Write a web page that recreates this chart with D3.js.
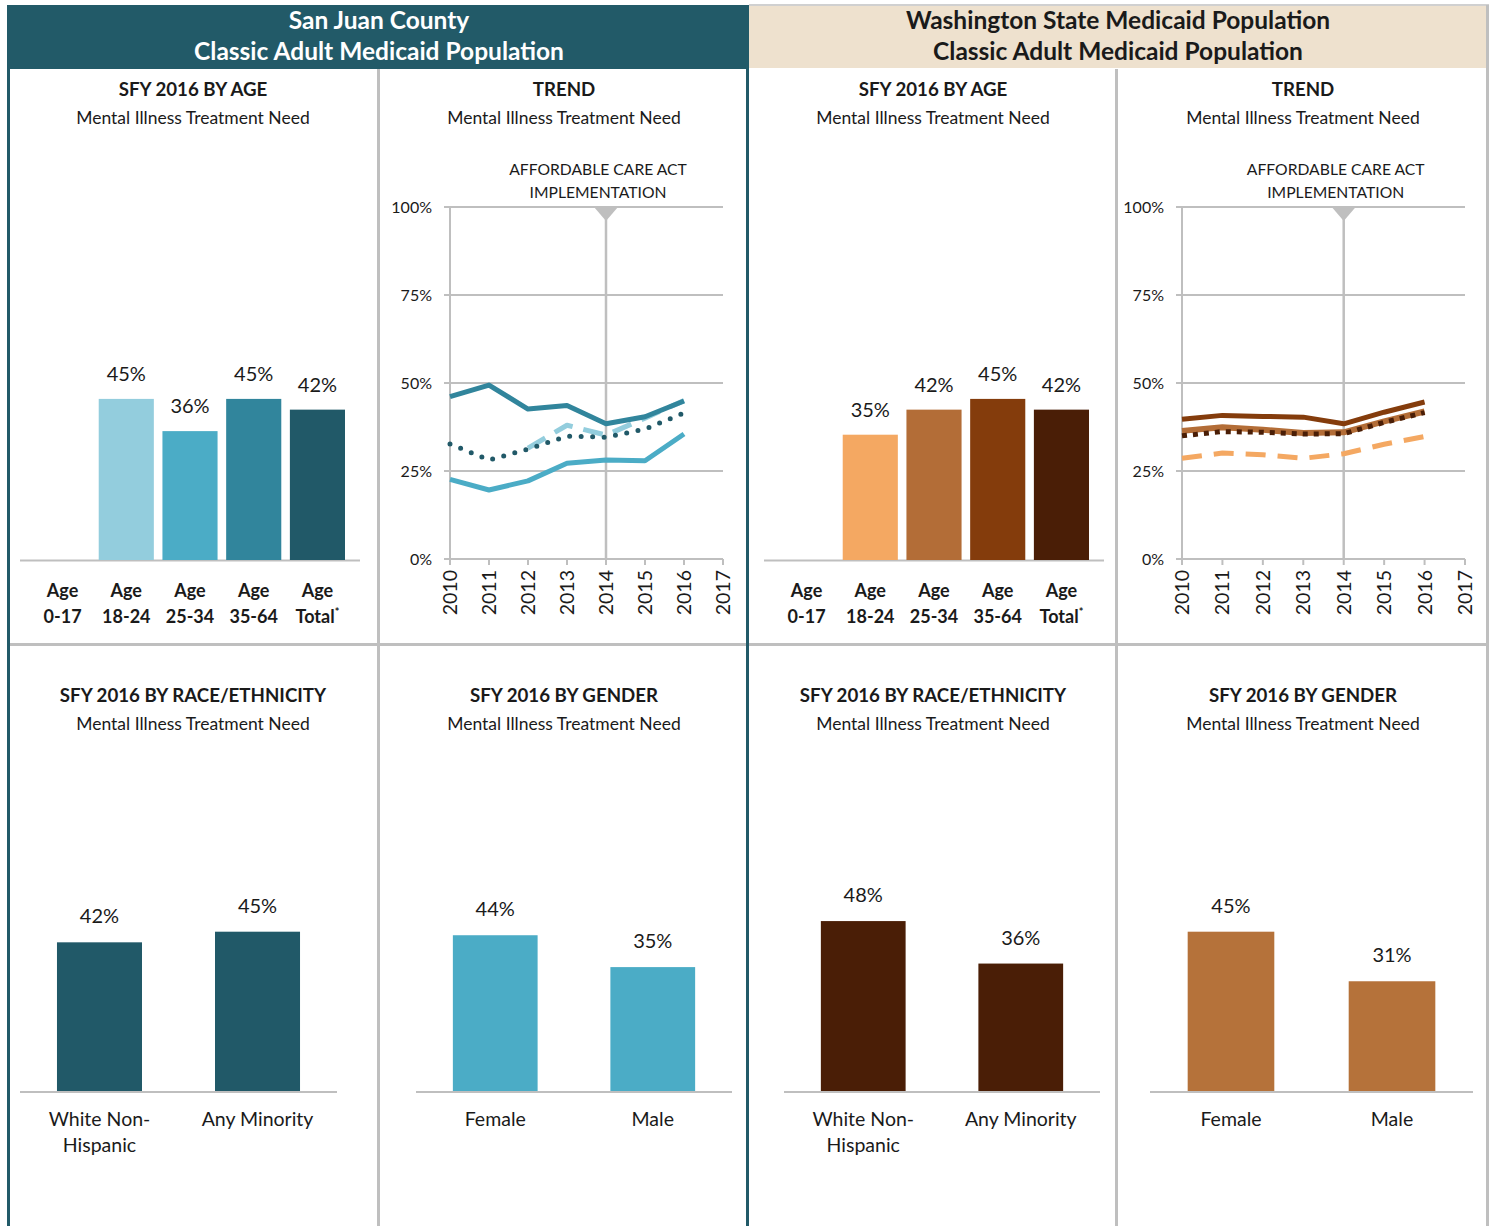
<!DOCTYPE html>
<html>
<head>
<meta charset="utf-8">
<script src="https://cdn.jsdelivr.net/npm/d3@7"></script>
<style>
  body { margin: 0; background: #fff; }
  svg { display: block; font-family: Lato, "Open Sans", sans-serif; }
</style>
</head>
<body>
<div id="chart"></div>
<script>
// ---- data ----
const ageCats = ["0-17", "18-24", "25-34", "35-64", "Total"];
const sjAge = [null, 0.45, 0.36, 0.45, 0.42];
const waAge = [null, 0.35, 0.42, 0.45, 0.42];

const years = [2010, 2011, 2012, 2013, 2014, 2015, 2016, 2017];
const yTicks = [0, 0.25, 0.5, 0.75, 1];
const sjTrend1824 = [null, null, 0.315, 0.38, 0.352, 0.40, 0.45];
const sjTrend2534 = [0.226, 0.196, 0.222, 0.272, 0.281, 0.279, 0.355];
const sjTrend3564 = [0.461, 0.494, 0.426, 0.436, 0.384, 0.404, 0.449];
const sjTrendTotal = [0.327, 0.281, 0.312, 0.349, 0.346, 0.369, 0.415];
const waTrend1824 = [0.286, 0.301, 0.296, 0.286, 0.299, 0.326, 0.348];
const waTrend2534 = [0.364, 0.374, 0.367, 0.358, 0.36, 0.391, 0.419];
const waTrend3564 = [0.397, 0.408, 0.405, 0.403, 0.384, 0.417, 0.446];
const waTrendTotal = [0.35, 0.362, 0.36, 0.355, 0.356, 0.388, 0.416];

const raceCats = ["White Non-|Hispanic", "Any Minority"];
const sjRace = [0.42, 0.45];
const waRace = [0.48, 0.36];
const genderCats = ["Female", "Male"];
const sjGender = [0.44, 0.35];
const waGender = [0.45, 0.31];

const sjColors = ["#93cddd", "#93cddd", "#4bacc6", "#31859c", "#215968"];
const waColors = ["#f4a862", "#f4a862", "#b36d37", "#843c0c", "#4a1e06"];

const W = 1494, H = 1226;
const svg = d3.select("#chart").append("svg")
              .attr("width", W)
              .attr("height", H);

const grey = "#bfbfbf";
const txt = "#1a1a1a";

// ---- headers ----
svg.append("rect").attr("x", 8).attr("y", 5).attr("width", 741).attr("height", 64).attr("fill", "#225a68");
svg.append("rect").attr("x", 749).attr("y", 5).attr("width", 739).attr("height", 63).attr("fill", "#eee1ce");
svg.append("line").attr("x1", 749).attr("x2", 1489).attr("y1", 5).attr("y2", 5).attr("stroke", "#d0d0d0").attr("stroke-width", 2);

[[379, "#ffffff", "San Juan County"], [1118, txt, "Washington State Medicaid Population"]].forEach(([cx, col, t]) => {
  const g = svg.append("text").attr("text-anchor", "middle").attr("fill", col)
               .style("font-weight", "bold").style("font-size", "24.5px");
  g.append("tspan").attr("x", cx).attr("y", 29).text(t);
  g.append("tspan").attr("x", cx).attr("y", 60).text("Classic Adult Medicaid Population");
});

// ---- panel borders ----
const borders = [
  [378.5, 69, 378.5, H, grey], [1116.5, 69, 1116.5, H, grey], [1487.5, 5, 1487.5, H, grey],
  [10, 644.5, 1487, 644.5, grey],
  [8.5, 5, 8.5, H, "#225a68"], [747.5, 5, 747.5, H, "#225a68"]
];
borders.forEach(b => {
  svg.append("line").attr("x1", b[0]).attr("y1", b[1]).attr("x2", b[2]).attr("y2", b[3])
     .attr("stroke", b[4]).attr("stroke-width", 3);
});

// ---- panel titles ----
function panelTitle(cx, y, title) {
  svg.append("text").attr("x", cx).attr("y", y).attr("text-anchor", "middle")
     .attr("fill", txt).style("font-weight", "bold").style("font-size", "18.7px").text(title);
  svg.append("text").attr("x", cx).attr("y", y + 28).attr("text-anchor", "middle")
     .attr("fill", txt).style("font-size", "17.5px").text("Mental Illness Treatment Need");
}
panelTitle(193, 96, "SFY 2016 BY AGE");
panelTitle(564, 96, "TREND");
panelTitle(933, 96, "SFY 2016 BY AGE");
panelTitle(1303, 96, "TREND");
panelTitle(193, 702, "SFY 2016 BY RACE/ETHNICITY");
panelTitle(564, 702, "SFY 2016 BY GENDER");
panelTitle(933, 702, "SFY 2016 BY RACE/ETHNICITY");
panelTitle(1303, 702, "SFY 2016 BY GENDER");

// ---- age bars ----
function ageChart(x0, x1, values, colors) {
  const x = d3.scaleBand().domain(ageCats).range([x0 + 15, x1 - 15]).paddingInner(0.135).paddingOuter(0);
  const y = d3.scaleLinear().domain([0, 1]).range([560, 202]);
  const data = ageCats.map((c, i) => ({ cat: c, v: values[i], col: colors[i] })).filter(d => d.v != null);

  svg.append("line").attr("x1", x0).attr("x2", x1).attr("y1", 560.5).attr("y2", 560.5)
     .attr("stroke", grey).attr("stroke-width", 2);

  svg.selectAll(null).data(data).enter().append("rect")
     .attr("x", d => x(d.cat)).attr("y", d => y(d.v))
     .attr("width", x.bandwidth()).attr("height", d => y(0) - y(d.v))
     .attr("fill", d => d.col);

  svg.selectAll(null).data(data).enter().append("text")
     .attr("x", d => x(d.cat) + x.bandwidth() / 2).attr("y", d => y(d.v) - 18)
     .attr("text-anchor", "middle").attr("fill", txt).style("font-size", "20px")
     .text(d => d3.format(".0%")(d.v));

  ageCats.forEach(c => {
    const t = svg.append("text").attr("text-anchor", "middle").attr("fill", txt)
                 .style("font-weight", "bold").style("font-size", "18px");
    const cx = x(c) + x.bandwidth() / 2;
    t.append("tspan").attr("x", cx).attr("y", 597).text("Age");
    t.append("tspan").attr("x", cx).attr("y", 623).text(c);
    if (c === "Total") t.append("tspan").attr("dy", -7).style("font-size", "11px").text("*");
  });
}
ageChart(20, 360, sjAge, sjColors);
ageChart(764, 1104, waAge, waColors);

// ---- trend ----
function trendChart(x0, x1, series) {
  const x = d3.scaleLinear().domain([2010, 2017]).range([x0, x1]);
  const y = d3.scaleLinear().domain([0, 1]).range([559, 207]);
  const g = svg.append("g");

  g.selectAll(null).data(yTicks).enter().append("line")
   .attr("x1", x0 - 6).attr("x2", x1).attr("y1", d => y(d)).attr("y2", d => y(d))
   .attr("stroke", grey).attr("stroke-width", 2);
  g.selectAll(null).data(yTicks).enter().append("text")
   .attr("x", x0 - 18).attr("y", d => y(d)).attr("dy", "0.35em").attr("text-anchor", "end")
   .attr("fill", txt).style("font-size", "16px").text(d => d3.format(".0%")(d));

  g.append("line").attr("x1", x0).attr("x2", x0).attr("y1", y(1)).attr("y2", y(0))
   .attr("stroke", grey).attr("stroke-width", 2);
  g.selectAll(null).data(years).enter().append("line")
   .attr("x1", d => x(d)).attr("x2", d => x(d)).attr("y1", y(0)).attr("y2", y(0) + 6)
   .attr("stroke", grey).attr("stroke-width", 2);
  g.selectAll(null).data(years).enter().append("text")
   .attr("transform", d => `translate(${x(d)},${y(0) + 11}) rotate(-90)`)
   .attr("dy", "0.36em").attr("text-anchor", "end").attr("fill", txt)
   .style("font-size", "19.5px").text(d => d);

  // ACA marker
  g.append("line").attr("x1", x(2014)).attr("x2", x(2014)).attr("y1", y(1)).attr("y2", y(0))
   .attr("stroke", grey).attr("stroke-width", 2.5);
  g.append("path")
   .attr("d", `M${x(2014) - 12},${y(1)} L${x(2014) + 12},${y(1)} L${x(2014)},${y(1) + 14} Z`)
   .attr("fill", grey);
  const t = g.append("text").attr("text-anchor", "middle").attr("fill", txt).style("font-size", "15.7px");
  t.append("tspan").attr("x", x(2014) - 8).attr("y", 175).text("AFFORDABLE CARE ACT");
  t.append("tspan").attr("x", x(2014) - 8).attr("y", 198).text("IMPLEMENTATION");

  const line = d3.line().defined(d => d.v != null).x(d => x(d.yr)).y(d => y(d.v));
  series.forEach(s => {
    const pts = s.values.map((v, i) => ({ yr: years[i], v }));
    g.append("path").datum(pts).attr("d", line).attr("fill", "none")
     .attr("stroke", s.color).attr("stroke-width", s.width || 5)
     .attr("stroke-dasharray", s.dash || null)
     .attr("stroke-linecap", s.cap || "butt")
     .attr("stroke-linejoin", "round");
  });
}
trendChart(450, 723, [
  { values: sjTrend1824, color: "#93cddd", dash: "20 11" },
  { values: sjTrend2534, color: "#4bacc6" },
  { values: sjTrend3564, color: "#31859c" },
  { values: sjTrendTotal, color: "#215968", dash: "0 11.5", cap: "round", width: 5 }
]);
trendChart(1182, 1465, [
  { values: waTrend1824, color: "#f4a862", dash: "20 12" },
  { values: waTrend2534, color: "#b36d37", width: 6 },
  { values: waTrend3564, color: "#843c0c" },
  { values: waTrendTotal, color: "#4a1e06", dash: "5 6", width: 5 }
]);

// ---- two-bar charts ----
function pairChart(x0, x1, cats, values, color) {
  const x = d3.scaleBand().domain(cats).range([x0, x1]).paddingInner(0.462).paddingOuter(0.234);
  const y = d3.scaleLinear().domain([0, 1]).range([1091, 737]);
  const data = cats.map((c, i) => ({ cat: c, v: values[i] }));

  svg.append("line").attr("x1", x0).attr("x2", x1).attr("y1", 1092).attr("y2", 1092)
     .attr("stroke", grey).attr("stroke-width", 2);
  svg.selectAll(null).data(data).enter().append("rect")
     .attr("x", d => x(d.cat)).attr("y", d => y(d.v))
     .attr("width", x.bandwidth()).attr("height", d => y(0) - y(d.v))
     .attr("fill", color);
  svg.selectAll(null).data(data).enter().append("text")
     .attr("x", d => x(d.cat) + x.bandwidth() / 2).attr("y", d => y(d.v) - 19)
     .attr("text-anchor", "middle").attr("fill", txt).style("font-size", "20px")
     .text(d => d3.format(".0%")(d.v));
  data.forEach(d => {
    const t = svg.append("text").attr("text-anchor", "middle").attr("fill", txt).style("font-size", "19.5px");
    d.cat.split("|").forEach((s, i) => {
      t.append("tspan").attr("x", x(d.cat) + x.bandwidth() / 2).attr("y", 1126 + i * 26).text(s);
    });
  });
}
pairChart(20, 337, raceCats, sjRace, "#215968");
pairChart(416, 732, genderCats, sjGender, "#4bacc6");
pairChart(784, 1100, raceCats, waRace, "#4a1e06");
pairChart(1150, 1473, genderCats, waGender, "#b5723a");
</script>
</body>
</html>
